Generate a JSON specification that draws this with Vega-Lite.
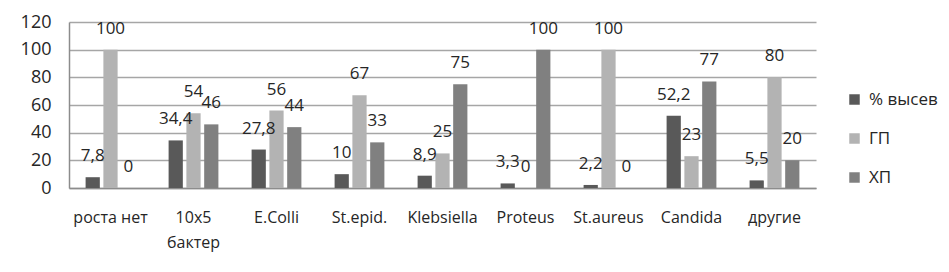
{
  "$schema": "https://vega.github.io/schema/vega-lite/v6.json",
  "autosize": "none",
  "width": 747,
  "height": 166,
  "padding": {"left": 69, "top": 22, "right": 133, "bottom": 84},
  "background": "white",
  "config": {
    "font": "Open Sans",
    "view": {"stroke": null},
    "locale": {"number": {"decimal": ",", "thousands": " ", "grouping": [3], "currency": ["", ""]}}
  },
  "data": {
    "values": [
      {"cat": "роста нет", "series": "% высев", "v": 7.8},
      {"cat": "роста нет", "series": "ГП", "v": 100},
      {"cat": "роста нет", "series": "ХП", "v": 0},
      {"cat": "10x5|бактер", "series": "% высев", "v": 34.4},
      {"cat": "10x5|бактер", "series": "ГП", "v": 54},
      {"cat": "10x5|бактер", "series": "ХП", "v": 46},
      {"cat": "E.Colli", "series": "% высев", "v": 27.8},
      {"cat": "E.Colli", "series": "ГП", "v": 56},
      {"cat": "E.Colli", "series": "ХП", "v": 44},
      {"cat": "St.epid.", "series": "% высев", "v": 10},
      {"cat": "St.epid.", "series": "ГП", "v": 67},
      {"cat": "St.epid.", "series": "ХП", "v": 33},
      {"cat": "Klebsiella", "series": "% высев", "v": 8.9},
      {"cat": "Klebsiella", "series": "ГП", "v": 25},
      {"cat": "Klebsiella", "series": "ХП", "v": 75},
      {"cat": "Proteus", "series": "% высев", "v": 3.3},
      {"cat": "Proteus", "series": "ГП", "v": 0},
      {"cat": "Proteus", "series": "ХП", "v": 100},
      {"cat": "St.aureus", "series": "% высев", "v": 2.2},
      {"cat": "St.aureus", "series": "ГП", "v": 100},
      {"cat": "St.aureus", "series": "ХП", "v": 0},
      {"cat": "Candida", "series": "% высев", "v": 52.2},
      {"cat": "Candida", "series": "ГП", "v": 23},
      {"cat": "Candida", "series": "ХП", "v": 77},
      {"cat": "другие", "series": "% высев", "v": 5.5},
      {"cat": "другие", "series": "ГП", "v": 80},
      {"cat": "другие", "series": "ХП", "v": 20}
    ]
  },
  "encoding": {
    "x": {
      "field": "cat", "type": "nominal", "sort": null,
      "scale": {"paddingInner": 0.4, "paddingOuter": 0.2},
      "axis": {
        "title": null, "labelAngle": 0, "ticks": false,
        "labelExpr": "split(datum.label, '|')",
        "labelFontSize": 16, "labelColor": "#262626", "labelPadding": 21,
        "labelLineHeight": 25,
        "domainColor": "#8c8c8c", "domainWidth": 1.5, "labelBaseline": "top"
      }
    },
    "xOffset": {"field": "series", "type": "nominal", "scale": {"paddingInner": 0.2}},
    "y": {
      "field": "v", "type": "quantitative",
      "scale": {"domain": [0, 120], "nice": false},
      "axis": {
        "title": null, "values": [0, 20, 40, 60, 80, 100, 120], "ticks": false,
        "labelFontSize": 18, "labelColor": "#262626", "labelPadding": 18,
        "gridColor": "#a6a6a6", "gridWidth": 1.3, "domainColor": "#8c8c8c", "domainWidth": 1.5
      }
    }
  },
  "layer": [
    {
      "mark": {"type": "bar"},
      "encoding": {
        "color": {
          "field": "series", "type": "nominal",
          "scale": {"domain": ["% высев", "ГП", "ХП"], "range": ["#595959", "#b3b3b3", "#808080"]},
          "legend": {
            "title": null, "orient": "none", "legendX": 777, "legendY": 69,
            "symbolType": "square", "symbolSize": 110, "labelFontSize": 17,
            "labelColor": "#262626", "rowPadding": 21, "labelOffset": 6
          }
        }
      }
    },
    {
      "mark": {"type": "text", "baseline": "middle", "dy": -21, "fontSize": 17, "color": "#262626"},
      "encoding": {
        "text": {"field": "v", "type": "quantitative", "format": "~g"}
      }
    }
  ]
}
